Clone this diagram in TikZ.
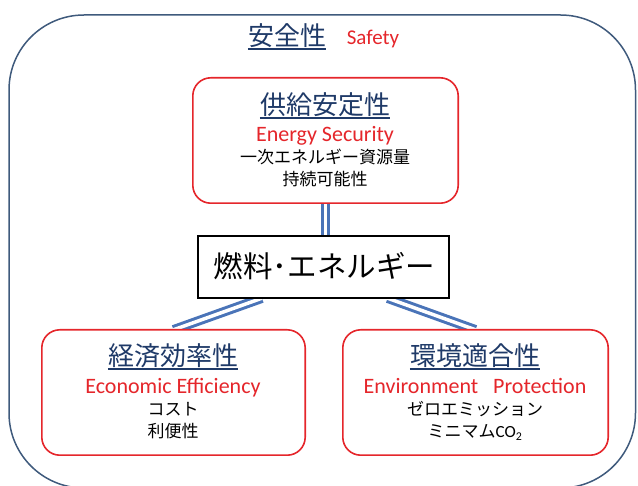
\documentclass[tikz,border=0pt]{standalone}
\usepackage{fontspec}
\usetikzlibrary{calc}
\setmainfont{Carlito}
\newfontfamily\jp{Noto Sans CJK JP}
\definecolor{outerc}{HTML}{3F5A7C}
\definecolor{redc}{HTML}{E5262B}
\definecolor{navyc}{HTML}{1F3A68}
\definecolor{linkc}{HTML}{4A74B8}
\begin{document}
\begin{tikzpicture}[x=1pt,y=-1pt,
  redbox/.style={draw=redc,line width=1.6pt,rounded corners=18pt,fill=white},
  centbox/.style={draw=black,line width=1.8pt,fill=white},
  ttl/.style={inner sep=0pt,text=navyc,font=\jp\fontsize{26}{29}\selectfont},
  eng/.style={inner sep=0pt,text=redc,font=\fontsize{22}{25}\selectfont},
  sub/.style={inner sep=0pt,text=black,font=\jp\fontsize{17}{20}\selectfont},
  ul/.style={draw=navyc,line width=1.3pt},
  link/.style={draw=linkc,line width=3pt,double=white,double distance=3.5pt}]
\useasboundingbox (0,0) rectangle (638,486);
% outer safety frame (cut at the bottom)
\begin{scope}
\clip (0,0) rectangle (638,486);
\draw[outerc,line width=1.5pt,rounded corners=75pt] (9,15) rectangle (635.5,488);
\end{scope}
% anchor nodes for boxes
\node[inner sep=0pt,minimum width=265pt,minimum height=125pt] (top) at (325.5,140.5) {};
\node[inner sep=0pt,minimum width=263pt,minimum height=125pt] (bl) at (173.5,392.5) {};
\node[inner sep=0pt,minimum width=265pt,minimum height=125pt] (br) at (475.5,392.5) {};
\node[inner sep=0pt,minimum width=251pt,minimum height=62pt] (cen) at (323.5,267) {};
% connectors
\coordinate (cl) at ($(cen.south west)!0.255!(cen.south east)$);
\coordinate (cr) at ($(cen.south west)!0.755!(cen.south east)$);
\draw[link] (top.south) -- (top.south |- cen.north);
\draw[link] (cl) -- (bl.north);
\draw[link] (cr) -- (br.north);
% boxes
\path[redbox] (top.north west) rectangle (top.south east);
\path[redbox] (bl.north west) rectangle (bl.south east);
\path[redbox] (br.north west) rectangle (br.south east);
\path[centbox] (cen.north west) rectangle (cen.south east);
\node[inner sep=0pt,font=\jp\fontsize{29.5}{32}\selectfont] (cent) at (324.5,266) {燃料･エネルギー};
% safety title
\node[ttl,anchor=base] (saf) at (287,46) {安全性};
\draw[ul] ([yshift=-3pt]saf.base west) -- ([yshift=-3pt]saf.base east);
\node[eng,anchor=base,font=\fontsize{21}{24}\selectfont] (safe) at (373,45) {Safety};
% top box
\node[ttl,anchor=base] (t1) at (325,115) {供給安定性};
\draw[ul] ([yshift=-3pt]t1.base west) -- ([yshift=-3pt]t1.base east);
\node[eng,anchor=base] (t2) at (325,142) {Energy Security};
\node[sub,anchor=base] (t3) at (325,164) {一次エネルギー資源量};
\node[sub,anchor=base] (t4) at (325,186) {持続可能性};
% bottom left
\node[ttl,anchor=base] (l1) at (173,366) {経済効率性};
\draw[ul] ([yshift=-3pt]l1.base west) -- ([yshift=-3pt]l1.base east);
\node[eng,anchor=base] (l2) at (173,394) {Economic Efficiency};
\node[sub,anchor=base] (l3) at (173,416) {コスト};
\node[sub,anchor=base] (l4) at (173,438) {利便性};
% bottom right
\node[ttl,anchor=base] (r1) at (475,366) {環境適合性};
\draw[ul] ([yshift=-3pt]r1.base west) -- ([yshift=-3pt]r1.base east);
\node[eng,anchor=base] (r2) at (475,394) {Environment\ \ \ Protection};
\node[sub,anchor=base] (r3) at (475,416) {ゼロエミッション};
\node[sub,anchor=base] (r4) at (475,438) {ミニマム{\rmfamily\fontsize{17}{20}\selectfont CO\textsubscript{2}}};
\end{tikzpicture}
\end{document}
